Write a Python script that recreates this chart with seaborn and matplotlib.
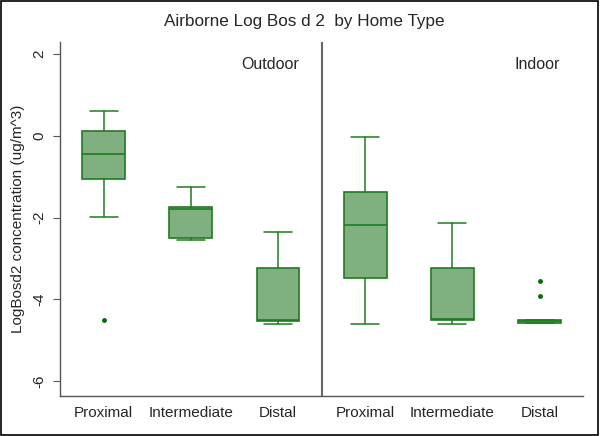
import matplotlib
matplotlib.use('Agg')
import matplotlib.pyplot as plt
import seaborn as sns

# box statistics (log concentration)
groups = ['Proximal', 'Intermediate', 'Distal', 'Proximal', 'Intermediate', 'Distal']
whislo = [-1.99, -2.55, -4.61, -4.60, -4.60, -4.58]
q1 = [-1.06, -2.51, -4.52, -3.48, -4.51, -4.58]
med = [-0.44, -1.79, -4.50, -2.19, -4.49, -4.53]
q3 = [0.11, -1.73, -3.24, -1.37, -3.23, -4.51]
whishi = [0.61, -1.25, -2.35, -0.03, -2.14, -4.51]
fliers = [[-4.5], [], [], [], [], [-3.55, -3.91]]

sns.set_style('ticks')
plt.rcParams['font.family'] = ['Liberation Sans', 'DejaVu Sans']

fill = '#80b080'
edge = '#217a21'

stats = []
for i in range(len(groups)):
    stats.append(dict(label=groups[i], whislo=whislo[i], q1=q1[i], med=med[i],
                      q3=q3[i], whishi=whishi[i], fliers=fliers[i]))

f = plt.figure(figsize=(6, 4.36), dpi=100)
ax = f.add_axes([0.1, 0.092, 0.872, 0.812])
ax.bxp(stats, positions=range(len(groups)), widths=0.49, capwidths=0.32,
       patch_artist=True,
       boxprops=dict(facecolor=fill, edgecolor=edge, linewidth=1.2),
       medianprops=dict(color=edge, linewidth=1.2),
       whiskerprops=dict(color=edge, linewidth=1.1),
       capprops=dict(color=edge, linewidth=1.1),
       flierprops=dict(marker='o', markersize=2.5, markerfacecolor='#0a6a0a',
                       markeredgecolor='#0a6a0a'))

ax.set_xlim(-0.5, 5.5)
ax.set_ylim(-6.36, 2.3)
ax.set_yticks([-6, -4, -2, 0, 2])
ax.set_yticklabels(['-6', '-4', '-2', '0', '2'], rotation=90, va='center')
ax.tick_params(axis='y', length=5, color='#555555', labelsize=11, pad=5)
ax.tick_params(axis='x', length=0, labelsize=11, pad=7)
ax.set_ylabel('LogBosd2 concentration (ug/m^3)', fontsize=11, labelpad=5)
f.text(0.508, 0.95, 'Airborne Log Bos d 2  by Home Type', fontsize=12.3,
       ha='center', va='center')

sns.despine(ax=ax)
for s in ['left', 'bottom']:
    ax.spines[s].set_color('#555555')
    ax.spines[s].set_linewidth(1)

ax.axvline(2.5, color='#666666', linewidth=1.5)
ax.text(2.245, 1.75, 'Outdoor', ha='right', va='center', fontsize=11.5)
ax.text(5.23, 1.75, 'Indoor', ha='right', va='center', fontsize=11.5)

f.patches.append(plt.Rectangle((0.002, 0.002), 0.995, 0.995, transform=f.transFigure,
                               fill=False, edgecolor='black', linewidth=1.2))

plt.savefig('out.png', dpi=100)
